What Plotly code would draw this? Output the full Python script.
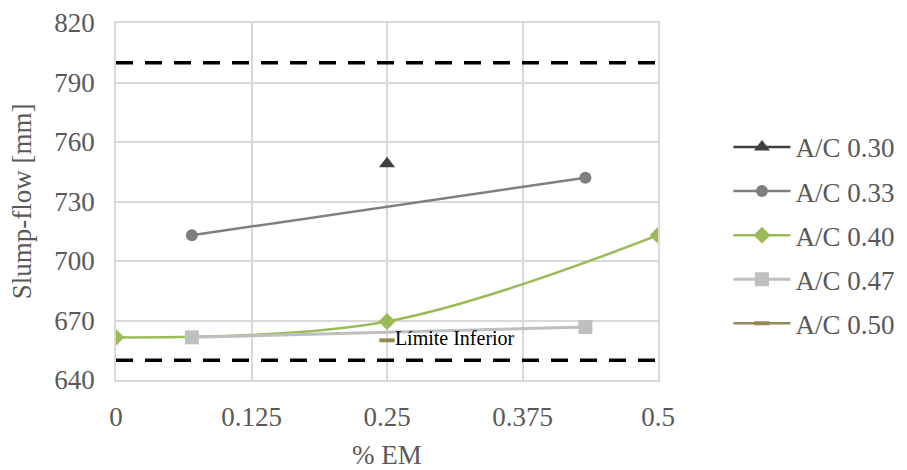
import plotly.graph_objects as go

# Slump-flow results by % EM for each A/C ratio
x_030 = [0.25]
y_030 = [749]

x_033 = [0.07, 0.433]
y_033 = [713, 742]

x_040 = [0.0, 0.25, 0.5]
y_040 = [661.5, 669.5, 713]

x_047 = [0.07, 0.433]
y_047 = [661.5, 666.7]

x_050 = [0.25]
y_050 = [660]
label_050 = ["Límite Inferior"]

# Acceptance limits
limit_x = [0.0, 0.5]
upper_limit = 800
lower_limit = 650

x_ticks = [0, 0.125, 0.25, 0.375, 0.5]
x_tick_text = ["0", "0.125", "0.25", "0.375", "0.5"]
y_ticks = [640, 670, 700, 730, 760, 790, 820]

SERIF = "'Liberation Serif', 'Times New Roman', serif"
GRID = "#d9d9d9"
TICK = "#595959"
FS = 27

fig = go.Figure()

for lim in (upper_limit, lower_limit):
    fig.add_trace(go.Scatter(
        x=limit_x, y=[lim, lim], mode="lines", showlegend=False,
        line=dict(color="black", width=3.5, dash="17px,12px"),
        hoverinfo="skip",
    ))

fig.add_trace(go.Scatter(
    x=x_030, y=y_030, name="A/C 0.30", mode="lines+markers",
    line=dict(color="#404040", width=2.5),
    marker=dict(symbol="triangle-up", size=14, color="#404040"),
    legendgroup="a",
))
fig.add_trace(go.Scatter(
    x=x_033, y=y_033, name="A/C 0.33", mode="lines+markers",
    line=dict(color="#7f7f7f", width=2.5),
    marker=dict(symbol="circle", size=12, color="#7f7f7f"),
    legendgroup="b",
))
fig.add_trace(go.Scatter(
    x=x_040, y=y_040, name="A/C 0.40", mode="lines+markers",
    line=dict(color="#9bbb59", width=2.5, shape="spline", smoothing=1.0),
    marker=dict(symbol="diamond", size=13, color="#9bbb59"),
    legendgroup="c",
))
fig.add_trace(go.Scatter(
    x=x_047, y=y_047, name="A/C 0.47", mode="lines+markers",
    line=dict(color="#bfbfbf", width=3),
    marker=dict(symbol="square", size=14, color="#bfbfbf"),
    legendgroup="d",
))
fig.add_trace(go.Scatter(
    x=x_050, y=y_050, name="A/C 0.50", mode="lines+markers+text",
    text=label_050, textposition="middle right",
    textfont=dict(family=SERIF, size=20, color="black"),
    line=dict(color="#948a54", width=2.5),
    marker=dict(symbol="line-ew", size=11, line=dict(color="#948a54", width=4)),
    legendgroup="e",
))

fig.update_layout(
    width=907, height=470,
    margin=dict(l=116, r=249, t=23, b=90, autoexpand=False),
    paper_bgcolor="white", plot_bgcolor="white",
    font=dict(family=SERIF, color=TICK, size=FS),
    legend=dict(
        x=1.13, y=0.405, xanchor="left", yanchor="middle",
        font=dict(family=SERIF, size=FS, color=TICK),
        tracegroupgap=6, itemwidth=57,
        bgcolor="rgba(0,0,0,0)",
    ),
    xaxis=dict(
        range=[0, 0.5], tickvals=x_ticks, ticktext=x_tick_text,
        automargin=False,
        showgrid=True, gridcolor=GRID, gridwidth=1.5,
        showline=True, linecolor=GRID, linewidth=1.5, mirror=True,
        zeroline=False, ticks="", ticklen=0, ticklabelstandoff=12,
        tickfont=dict(family=SERIF, size=FS, color=TICK),
    ),
    yaxis=dict(
        range=[640, 820], tickvals=y_ticks,
        automargin=False,
        showgrid=True, gridcolor=GRID, gridwidth=1.5,
        showline=True, linecolor=GRID, linewidth=1.5, mirror=True,
        zeroline=False, ticks="", ticklabelstandoff=14,
        tickfont=dict(family=SERIF, size=FS, color=TICK),
    ),
    annotations=[
        dict(text="% EM", xref="paper", yref="paper", x=0.5, y=-0.21,
             xanchor="center", yanchor="middle", showarrow=False,
             font=dict(family=SERIF, size=FS, color=TICK)),
        dict(text="Slump-flow [mm]", xref="paper", yref="paper", x=-0.174, y=0.5,
             xanchor="center", yanchor="middle", textangle=-90, showarrow=False,
             font=dict(family=SERIF, size=FS, color=TICK)),
    ],
)

fig.write_html("out.html")
